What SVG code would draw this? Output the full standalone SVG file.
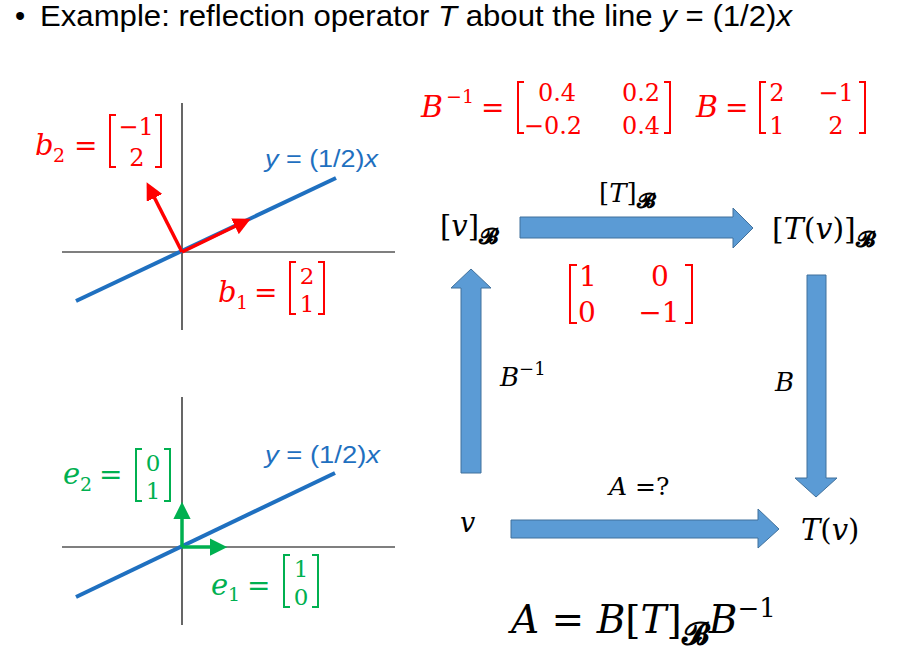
<svg xmlns="http://www.w3.org/2000/svg" width="897" height="666" viewBox="0 0 897 666">
<defs>
<style>
.title{font-family:"Liberation Sans","Open Sans",sans-serif;font-size:29px;fill:#000}
.lbl{font-family:"Liberation Sans","Open Sans",sans-serif;font-size:23px;fill:#1F70C0}
.m{font-family:"DejaVu Serif","Liberation Serif",serif;fill:#000}
.i{font-style:italic}
.red{fill:#FF0000}
.grn{fill:#00B050}
.scr{font-family:"DejaVu Serif","DejaVu Sans","Noto Sans",serif;font-weight:bold;font-style:normal}
.axis{stroke:#000;stroke-width:1.2;fill:none}
.line{stroke:#1F70C0;stroke-width:4;fill:none}
.rv{stroke:#FF0000;stroke-width:3.5;fill:none}
.gv{stroke:#00B050;stroke-width:3.5;fill:none}
.rb{stroke:#FF0000;stroke-width:2;fill:none}
.gb{stroke:#00B050;stroke-width:2;fill:none}
.arr{fill:#5B9BD5;stroke:#41719C;stroke-width:1}
</style>
<marker id="mr" markerWidth="5" markerHeight="5" refX="3.5" refY="2.5" orient="auto" markerUnits="strokeWidth"><path d="M0,0 L5,2.5 L0,5 Z" fill="#FF0000"/></marker>
<marker id="mg" markerWidth="5" markerHeight="5" refX="3.5" refY="2.5" orient="auto" markerUnits="strokeWidth"><path d="M0,0 L5,2.5 L0,5 Z" fill="#00B050"/></marker>
</defs>
<rect width="897" height="666" fill="#fff"/>

<g id="title">
<text class="title" x="15" y="26">•</text>
<text class="title" x="40" y="26" textLength="752" lengthAdjust="spacingAndGlyphs">Example: reflection operator <tspan font-style="italic">T</tspan> about the line <tspan font-style="italic">y</tspan> = (1/2)<tspan font-style="italic">x</tspan></text>
</g>

<g id="graph-top">
<line class="axis" x1="182" y1="103" x2="182" y2="330"/>
<line class="axis" x1="62" y1="252" x2="395" y2="252"/>
<line class="line" x1="76" y1="301" x2="336" y2="178"/>
<text class="lbl" x="265" y="167" textLength="113" lengthAdjust="spacingAndGlyphs"><tspan font-style="italic">y</tspan> = (1/2)<tspan font-style="italic">x</tspan></text>
</g>

<g id="b1">
<line class="rv" x1="182" y1="252" x2="246" y2="221" marker-end="url(#mr)"/>
<text class="m i red" x="218" y="302" font-size="29">b</text>
<text class="m red" x="236" y="309" font-size="19">1</text>
<text class="m red" x="254" y="302" font-size="28">=</text>
<path class="rb" d="M296,262 H290 V314 H296 M318,262 H324 V314 H318"/>
<text class="m red" x="307" y="284" font-size="23" text-anchor="middle">2</text>
<text class="m red" x="307" y="312" font-size="23" text-anchor="middle">1</text>
</g>

<g id="b2">
<line class="rv" x1="182" y1="252" x2="149" y2="187" marker-end="url(#mr)"/>
<text class="m i red" x="35" y="155" font-size="29">b</text>
<text class="m red" x="53" y="162" font-size="19">2</text>
<text class="m red" x="74" y="155" font-size="28">=</text>
<path class="rb" d="M116,115 H110 V167 H116 M155,115 H161 V167 H155"/>
<text class="m red" x="136" y="135" font-size="24" text-anchor="middle">−1</text>
<text class="m red" x="137" y="166" font-size="24" text-anchor="middle">2</text>
</g>

<g id="graph-bottom">
<line class="axis" x1="182" y1="397" x2="182" y2="625"/>
<line class="axis" x1="62" y1="547" x2="395" y2="547"/>
<line class="line" x1="76" y1="597" x2="335" y2="473"/>
<text class="lbl" x="265" y="463" textLength="115" lengthAdjust="spacingAndGlyphs"><tspan font-style="italic">y</tspan> = (1/2)<tspan font-style="italic">x</tspan></text>
</g>

<g id="e1">
<line class="gv" x1="182" y1="547" x2="222" y2="547" marker-end="url(#mg)"/>
<text class="m i grn" x="211" y="595" font-size="29">e</text>
<text class="m grn" x="228" y="601" font-size="19">1</text>
<text class="m grn" x="247" y="595" font-size="28">=</text>
<path class="gb" d="M290,555 H284 V607 H290 M312,555 H318 V607 H312"/>
<text class="m grn" x="301" y="577" font-size="23" text-anchor="middle">1</text>
<text class="m grn" x="301" y="605" font-size="23" text-anchor="middle">0</text>
</g>

<g id="e2">
<line class="gv" x1="182" y1="547" x2="182" y2="507" marker-end="url(#mg)"/>
<text class="m i grn" x="63" y="484" font-size="29">e</text>
<text class="m grn" x="80" y="491" font-size="19">2</text>
<text class="m grn" x="99" y="484" font-size="28">=</text>
<path class="gb" d="M142,449 H136 V501 H142 M164,449 H170 V501 H164"/>
<text class="m grn" x="153" y="471" font-size="23" text-anchor="middle">0</text>
<text class="m grn" x="153" y="499" font-size="23" text-anchor="middle">1</text>
</g>

<g id="matrices">
<text class="m i red" x="421" y="117" font-size="30">B</text>
<text class="m red" x="446" y="103" font-size="19">−1</text>
<text class="m red" x="481" y="117" font-size="28">=</text>
<path class="rb" d="M524,82 H518 V133 H524 M664,82 H670 V133 H664"/>
<text class="m red" x="557" y="101" font-size="24" text-anchor="middle">0.4</text>
<text class="m red" x="641" y="101" font-size="24" text-anchor="middle">0.2</text>
<text class="m red" x="553" y="134" font-size="24" text-anchor="middle">−0.2</text>
<text class="m red" x="641" y="134" font-size="24" text-anchor="middle">0.4</text>
<text class="m i red" x="696" y="117" font-size="30">B</text>
<text class="m red" x="725" y="117" font-size="28">=</text>
<path class="rb" d="M766,82 H760 V133 H766 M859,82 H865 V133 H859"/>
<text class="m red" x="777" y="101" font-size="24" text-anchor="middle">2</text>
<text class="m red" x="836" y="101" font-size="24" text-anchor="middle">−1</text>
<text class="m red" x="777" y="134" font-size="24" text-anchor="middle">1</text>
<text class="m red" x="836" y="134" font-size="24" text-anchor="middle">2</text>
</g>

<g id="connectors">
<path class="arr" d="M520,217 H733 V208 L753,228 L733,248 V238 H520 Z"/>
<path class="arr" d="M461,473 V288 H451 L471,269 L491,288 H481 V473 Z"/>
<path class="arr" d="M807,275 H826 V478 H837 L816,497 L795,478 H807 Z"/>
<path class="arr" d="M511,520 H758 V509 L779,529 L758,548 V538 H511 Z"/>
</g>

<g id="node-vB">
<text class="m" x="440" y="236" font-size="29">[<tspan font-style="italic">v</tspan>]<tspan class="scr" font-size="22" dy="8">𝓑</tspan></text>
</g>
<g id="node-TvB">
<text class="m" x="772" y="239" font-size="30">[<tspan font-style="italic">T</tspan>(<tspan font-style="italic">v</tspan>)]<tspan class="scr" font-size="22" dy="8">𝓑</tspan></text>
</g>
<g id="node-v">
<text class="m i" x="460" y="532" font-size="27">v</text>
</g>
<g id="node-Tv">
<text class="m" x="801" y="540" font-size="29"><tspan font-style="italic">T</tspan>(<tspan font-style="italic">v</tspan>)</text>
</g>

<g id="label-TB">
<text class="m" x="599" y="202" font-size="26">[<tspan font-style="italic">T</tspan>]<tspan class="scr" font-size="21" dy="6">𝓑</tspan></text>
</g>
<g id="label-matrix">
<path class="rb" d="M577,265 H570 V323 H577 M685,265 H692 V323 H685"/>
<text class="m red" x="588" y="286" font-size="28" text-anchor="middle">1</text>
<text class="m red" x="660" y="286" font-size="28" text-anchor="middle">0</text>
<text class="m red" x="587" y="322" font-size="28" text-anchor="middle">0</text>
<text class="m red" x="659" y="322" font-size="28" text-anchor="middle">−1</text>
</g>
<g id="label-Binv">
<text class="m" x="500" y="386" font-size="26"><tspan font-style="italic">B</tspan><tspan font-size="18" dy="-11">−1</tspan></text>
</g>
<g id="label-B">
<text class="m i" x="775" y="391" font-size="26">B</text>
</g>
<g id="label-A">
<text class="m" x="609" y="495" font-size="25"><tspan font-style="italic">A</tspan> =?</text>
</g>

<g id="formula">
<text class="m" x="511" y="633" font-size="39"><tspan font-style="italic">A</tspan> = <tspan font-style="italic">B</tspan>[<tspan font-style="italic">T</tspan>]<tspan class="scr" font-size="31" dy="11">𝓑</tspan><tspan font-style="italic" dy="-11">B</tspan><tspan font-size="26" dy="-16">−1</tspan></text>
</g>
</svg>
